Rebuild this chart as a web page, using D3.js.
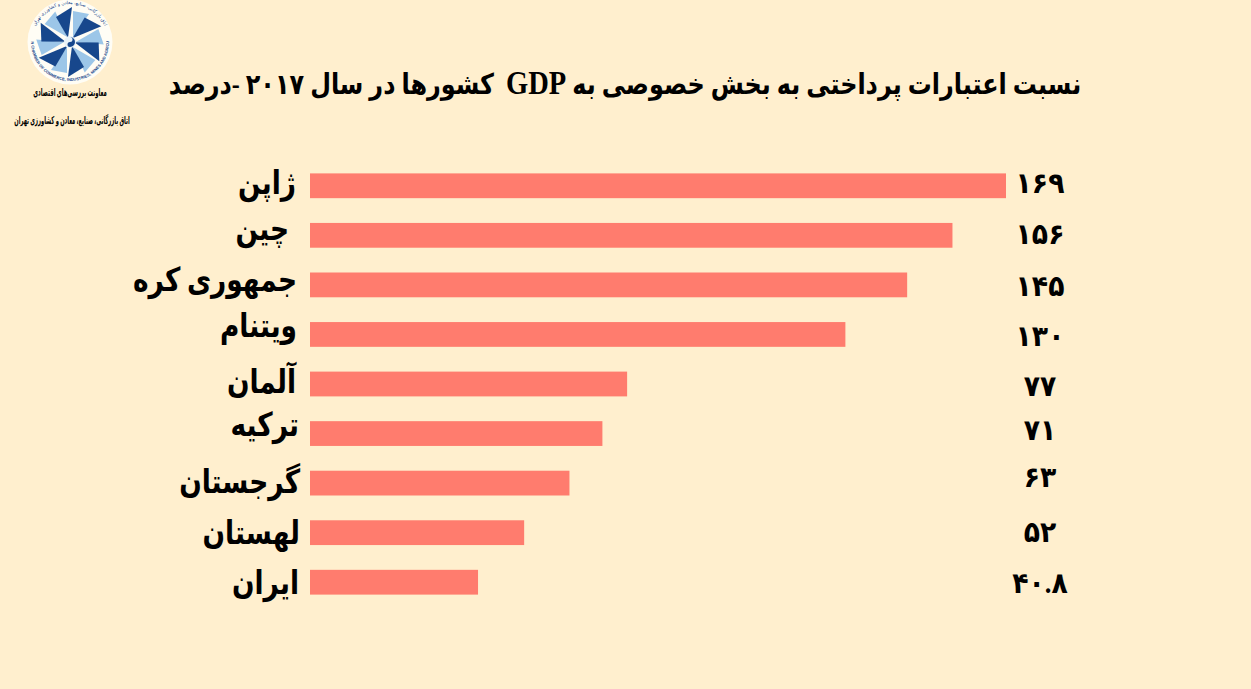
<!DOCTYPE html>
<html lang="fa">
<head>
<meta charset="utf-8">
<script src="https://cdn.jsdelivr.net/npm/d3@7/dist/d3.min.js"></script>
<style>
html,body{margin:0;padding:0;background:#FFEFCE;overflow:hidden}
svg{display:block}
text{fill:#000}
</style>
</head>
<body>
<div id="chart"></div>
<script>
const categories = ["ژاپن","چین","جمهوری کره","ویتنام","آلمان","ترکیه","گرجستان","لهستان","ایران"];
const values = [169,156,145,130,77,71,63,52,40.8];
const valueLabels = ["۱۶۹","۱۵۶","۱۴۵","۱۳۰","۷۷","۷۱","۶۳","۵۲","۴۰.۸"];
const titleParts = ["نسبت اعتبارات پرداختی به بخش خصوصی به ","GDP","\u00A0\u00A0کشورها در سال ۲۰۱۷ -درصد"];
const logoLine1 = "معاونت بررسی‌های اقتصادی";
const logoLine2 = "اتاق بازرگانی، صنایع، معادن و کشاورزی تهران";
const ringText = "TEHRAN CHAMBER OF COMMERCE, INDUSTRIES, MINES AND AGRICULTURE";
const ringTextFa = "اتاق بازرگانی، صنایع، معادن و کشاورزی تهران";

// hand placement of the labels, as in the reference
const catRight = [296,289,297,297,296,299,300,300,299];
const catDy = [8,5,6,3,9,2,10,11,12];
const valDy = [-2,0,2,3,3,-3,-5,0,2];

const W = 1251, H = 689;
const svg = d3.select("#chart").append("svg").attr("width", W).attr("height", H);
const serif = "'Liberation Serif','DejaVu Sans',serif";

const x = d3.scaleLinear().domain([0,169]).range([310,1006]);
const y = d3.scaleBand().domain(categories).range([161,607]).paddingInner(0.5).paddingOuter(0.25);
const cy = d => y(d)+y.bandwidth()/2;

svg.append("g").selectAll("rect").data(values).join("rect")
  .attr("x", x(0)).attr("y", (d,i)=>y(categories[i]))
  .attr("width", d=>x(d)-x(0)).attr("height", y.bandwidth())
  .attr("fill", "#FF7C6E");

svg.append("g").selectAll("text").data(categories).join("text")
  .attr("transform",(d,i)=>`translate(${catRight[i]},${cy(d)+catDy[i]}) scale(0.8,1)`)
  .attr("text-anchor","start").attr("direction","rtl")
  .attr("font-family",serif).attr("font-weight","bold").attr("font-size",33)
  .text(d=>d);

svg.append("g").selectAll("text").data(valueLabels).join("text")
  .attr("transform",(d,i)=>`translate(1040,${cy(categories[i])+9+valDy[i]}) scale(0.92,1)`)
  .attr("text-anchor","middle")
  .attr("font-family",serif).attr("font-weight","bold").attr("font-size",29)
  .text(d=>d);

const title = svg.append("text").attr("transform","translate(625,94) scale(0.84,1)")
  .attr("text-anchor","middle").attr("direction","rtl")
  .attr("font-family",serif).attr("font-weight","bold").attr("font-size",28.5);
title.selectAll("tspan").data(titleParts).join("tspan")
  .attr("font-size",(d,i)=>i===1?34:null)
  .text(d=>d);

// logo
const logo = svg.append("g").attr("transform","translate(70,42)");
logo.append("circle").attr("r",42.5).attr("fill","#FFFDF5");
const darkBlade = [[2,-35],[-14,-25],[-2,-4]];
const lightBlade = [[3,-31],[19,-28],[3,-5]];
const blades = d3.range(6);
const bladeLine = d3.line().curve(d3.curveLinearClosed);
logo.selectAll("path.l").data(blades).join("path").attr("class","l")
  .attr("d",bladeLine(lightBlade)).attr("fill","#9CC6E8").attr("transform",i=>`rotate(${i*60})`);
logo.selectAll("path.d").data(blades).join("path").attr("class","d")
  .attr("d",bladeLine(darkBlade)).attr("fill","#17478C").attr("transform",i=>`rotate(${i*60})`);
logo.append("circle").attr("r",6).attr("fill","#E8F2F8");
logo.append("path").attr("d","M0,-5A5,5 0 0 1 0,5A2.5,2.5 0 0 1 0,0A2.5,2.5 0 0 0 0,-5Z").attr("fill","#17478C");
logo.append("defs").html('<path id="rb" d="M-39,0A39,39 0 0 0 39,0"/><path id="rt" d="M-38,0A38,38 0 0 1 38,0"/>');
logo.append("text").attr("font-size",4).attr("font-weight","bold").attr("font-family","'Liberation Sans',sans-serif").attr("style","fill:#17478C")
  .append("textPath").attr("href","#rb").attr("startOffset","50%").attr("text-anchor","middle").text(ringText);
logo.append("text").attr("font-size",4.5).attr("font-family","'DejaVu Sans',sans-serif").attr("direction","rtl").attr("style","fill:#17478C")
  .append("textPath").attr("href","#rt").attr("startOffset","50%").attr("text-anchor","middle").text(ringTextFa);

svg.append("text").attr("transform","translate(70,96) scale(0.483,1)").attr("text-anchor","middle").attr("direction","rtl")
  .attr("font-family",serif).attr("font-weight","bold").attr("font-size",11).text(logoLine1);
svg.append("text").attr("transform","translate(72,124) scale(0.47,1)").attr("text-anchor","middle").attr("direction","rtl")
  .attr("font-family",serif).attr("font-weight","bold").attr("font-size",11).text(logoLine2);
</script>
</body>
</html>
